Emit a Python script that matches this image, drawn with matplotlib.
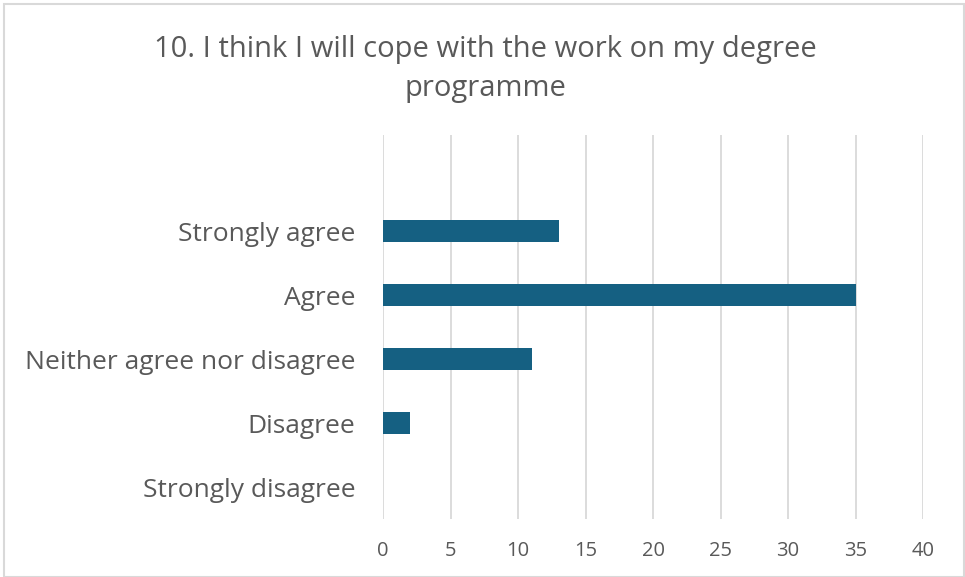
import matplotlib.pyplot as plt
from matplotlib import font_manager
from matplotlib.patches import Rectangle

# survey responses, bottom to top
categories = ["Strongly disagree", "Disagree", "Neither agree nor disagree",
              "Agree", "Strongly agree"]
counts = [0, 2, 11, 35, 13]
xticks = [0, 5, 10, 15, 20, 25, 30, 35, 40]
title = "10. I think I will cope with the work on my degree\nprogramme"

bar_color = "#156082"
text_color = "#595959"
grid_color = "#d9d9d9"

names = {f.name for f in font_manager.fontManager.ttflist}
label_font = "Open Sans" if "Open Sans" in names else "DejaVu Sans"

fig = plt.figure(figsize=(9.65, 5.77), dpi=100)
ax = fig.add_axes([0.3969, 0.1005, 0.5596, 0.6655])

# outer chart border
fig.patches.append(Rectangle((0.004, 0.0), 0.995, 0.993, transform=fig.transFigure,
                             fill=False, edgecolor=grid_color, linewidth=1.5))

ypos = list(range(len(categories)))
ax.barh(ypos, counts, height=0.355, color=bar_color, zorder=3)

ax.set_xlim(0, 40)
ax.set_ylim(-0.5, 5.5)
ax.set_xticks(xticks)
ax.set_xticklabels([str(t) for t in xticks])
ax.set_yticks(ypos)
ax.set_yticklabels(categories)

ax.grid(axis="x", color=grid_color, linewidth=1.3, zorder=0)
ax.tick_params(axis="both", length=0, colors=text_color)
ax.tick_params(axis="x", pad=16, labelsize=14.5)
ax.tick_params(axis="y", pad=20, labelsize=19)
for lbl in ax.get_xticklabels() + ax.get_yticklabels():
    lbl.set_fontfamily(label_font)
    lbl.set_va("center_baseline") if lbl in ax.get_yticklabels() else None
for s in ax.spines.values():
    s.set_visible(False)

fig.text(0.503, 0.880, title, ha="center", va="center", fontsize=21,
         color=text_color, family=label_font, linespacing=1.45)

fig.savefig("out.png", dpi=100)
